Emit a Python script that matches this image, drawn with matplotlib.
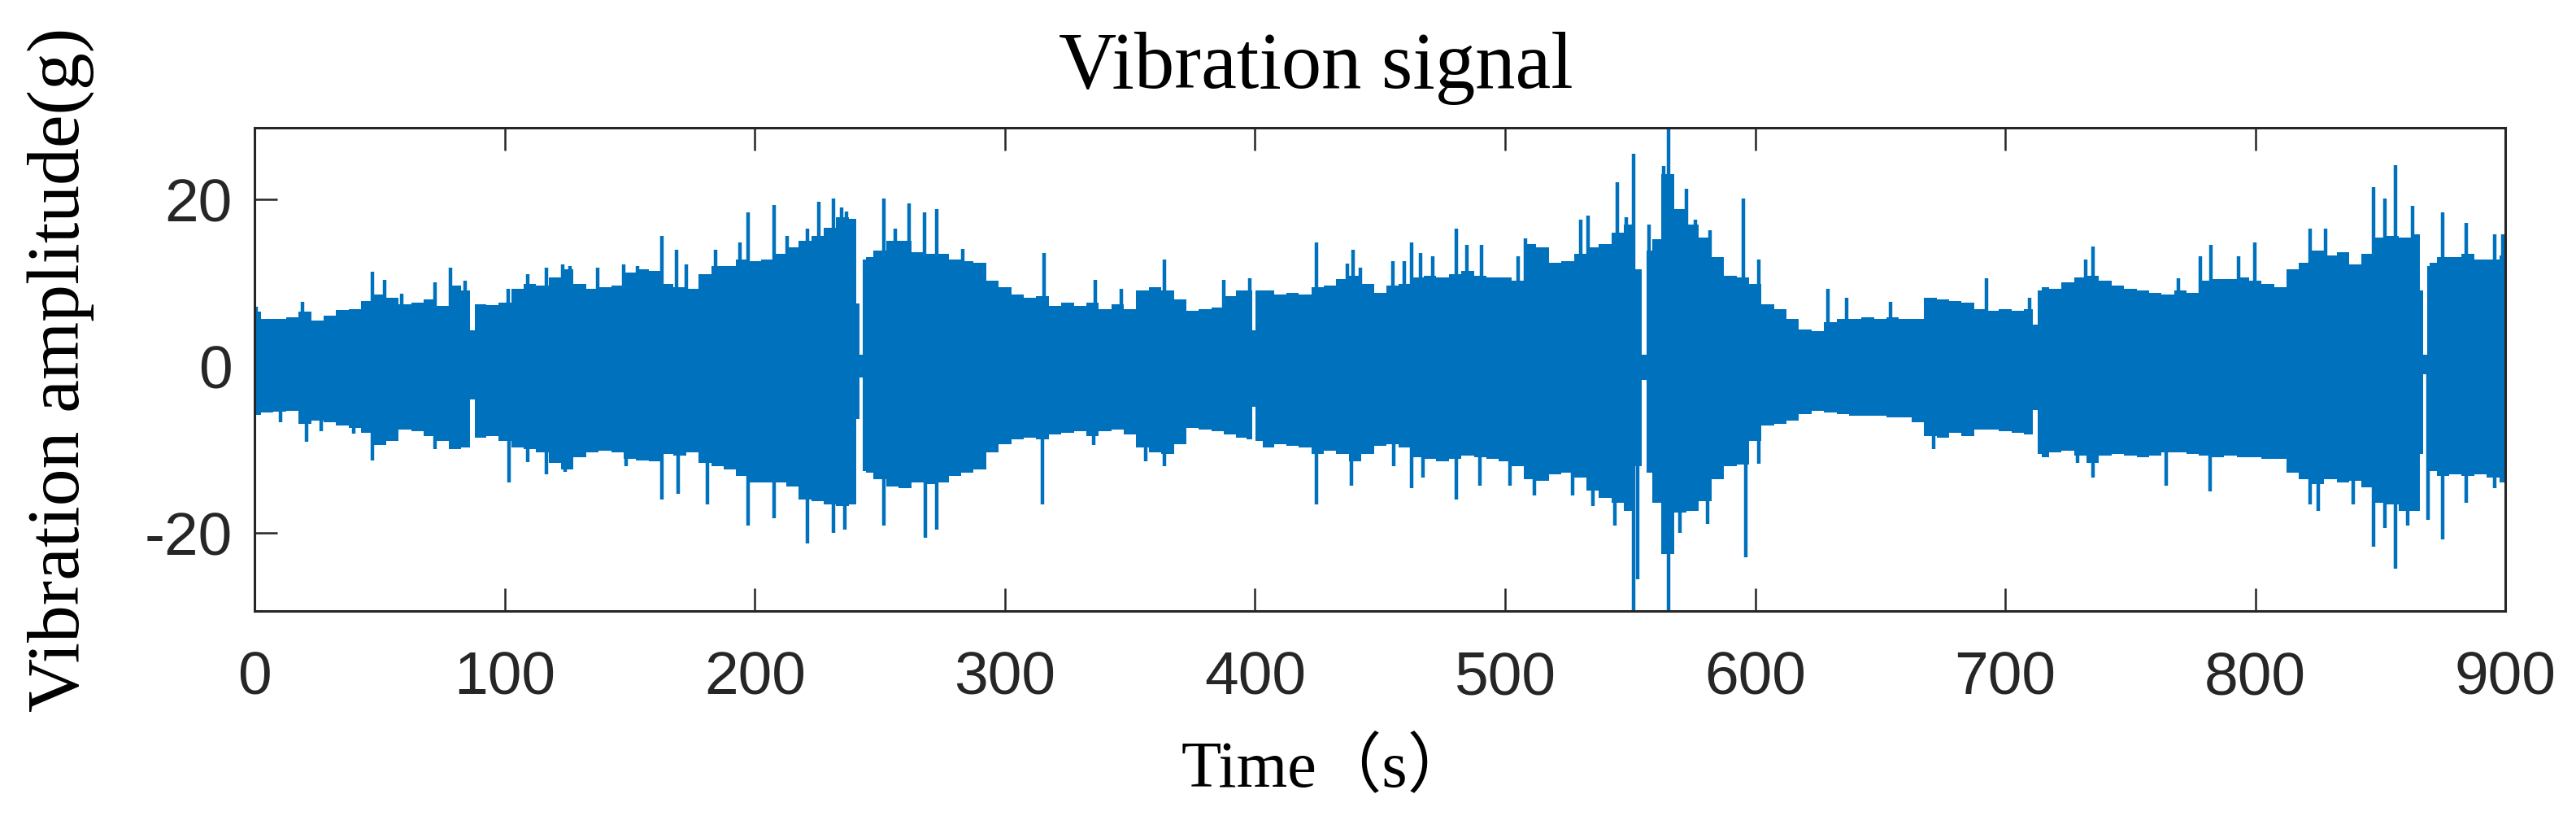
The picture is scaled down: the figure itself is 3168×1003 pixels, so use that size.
import matplotlib
matplotlib.use("Agg")
import matplotlib.pyplot as plt

# body envelope of the vibration signal (time in s, amplitude in g)
env_t = [0, 5, 10, 15, 20, 25, 30, 35, 40, 45, 50, 55, 60, 65, 70, 75, 80, 85, 87, 89,
         90, 95, 100, 105, 110, 115, 120, 125, 130, 135, 140, 145, 150, 155, 160, 165,
         170, 175, 180, 185, 190, 195, 200, 205, 210, 215, 220, 225, 230, 235, 240, 241,
         242.5, 244, 245, 250, 255, 260, 265, 270, 275, 280, 285, 290, 295, 300, 305, 310,
         315, 320, 325, 330, 335, 340, 345, 350, 355, 360, 365, 370, 375, 380, 385, 390,
         395, 398, 399.6, 401, 405, 410, 415, 420, 425, 430, 435, 440, 445, 450, 455, 460,
         465, 470, 475, 480, 485, 490, 495, 500, 505, 510, 515, 520, 525, 530, 535, 540,
         545, 550, 553.5, 555.5, 557.5, 560, 565, 570, 575, 580, 585, 590, 595, 600, 605,
         610, 615, 620, 625, 630, 635, 640, 645, 650, 655, 660, 665, 670, 675, 680, 685,
         690, 695, 700, 705, 710, 712, 714, 715, 720, 725, 730, 735, 740, 745, 750, 755,
         760, 765, 770, 775, 780, 785, 790, 795, 800, 805, 810, 815, 820, 825, 830, 835,
         840, 845, 850, 855, 860, 865, 866.3, 868, 869.5, 870, 875, 880, 885, 890, 895, 900]
env_hi = [6.5, 5.6, 5.6, 5.8, 6.5, 5.4, 6.0, 6.7, 6.8, 7.8, 8.6, 8.2, 7.4, 7.6, 8.0, 7.2,
          9.6, 9.0, 4.3, 7.4, 7.4, 7.3, 7.6, 9.2, 9.8, 9.6, 10.6, 11.6, 9.8, 9.2, 9.4, 9.6,
          11.2, 11.6, 11.4, 9.8, 9.4, 9.2, 11.0, 12.0, 12.0, 12.8, 12.6, 12.8, 13.4, 14.2,
          15.0, 15.6, 16.6, 17.8, 17.6, 7.5, 1.3, 12.8, 13.0, 13.8, 15.0, 15.0, 13.6, 13.4,
          13.4, 12.8, 12.6, 12.4, 10.2, 9.4, 8.6, 8.2, 8.4, 7.2, 7.6, 7.2, 7.6, 6.8, 7.4,
          6.8, 9.0, 9.4, 9.0, 8.0, 6.6, 6.8, 7.0, 8.4, 9.0, 9.0, 4.3, 9.0, 9.0, 8.6, 8.8,
          8.6, 9.4, 9.6, 10.4, 10.8, 9.8, 8.8, 9.6, 9.8, 10.6, 10.8, 10.6, 11.0, 11.4, 10.8,
          10.6, 10.6, 10.2, 14.6, 14.2, 12.4, 12.6, 13.4, 14.2, 14.6, 16.0, 17.0, 11.6, 1.3,
          13.8, 15.2, 23.0, 18.8, 17.0, 15.4, 13.0, 10.8, 10.6, 9.8, 7.4, 6.8, 5.6, 4.4, 4.2,
          5.2, 5.6, 5.6, 5.8, 5.6, 5.8, 5.6, 5.6, 8.2, 8.0, 7.8, 7.6, 6.8, 6.6, 6.8, 6.6,
          6.8, 4.9, 9.0, 9.4, 9.2, 10.0, 10.6, 10.8, 10.2, 9.6, 9.2, 9.0, 8.8, 8.6, 9.0, 8.8,
          10.2, 10.4, 10.4, 10.6, 10.2, 9.8, 9.4, 11.6, 12.4, 13.8, 13.2, 13.6, 12.2, 13.4,
          15.4, 15.6, 15.4, 15.8, 9.0, 1.3, 12.0, 12.4, 13.0, 13.0, 13.4, 12.8, 12.8, 13.2]
env_lo = [-5.9, -5.6, -5.5, -5.4, -7.0, -6.6, -6.8, -7.2, -7.4, -8.0, -9.5, -9.0, -7.6,
          -7.8, -8.4, -9.0, -10.0, -9.8, -4.0, -8.6, -8.6, -8.4, -9.0, -9.8, -10.0, -10.4,
          -11.6, -12.4, -11.0, -10.4, -10.2, -10.4, -11.2, -11.3, -11.4, -10.6, -10.8, -10.4,
          -11.6, -12.0, -12.4, -13.2, -14.0, -14.0, -14.0, -14.5, -16.0, -16.2, -16.6, -16.8,
          -16.6, -6.4, -1.4, -12.6, -12.8, -13.6, -14.5, -14.7, -14.0, -14.2, -14.0, -13.2,
          -12.8, -12.4, -10.4, -9.4, -8.8, -8.6, -8.8, -8.2, -8.0, -7.8, -8.4, -7.8, -7.6,
          -8.2, -9.8, -10.4, -10.6, -9.4, -7.4, -7.6, -7.8, -8.2, -8.6, -8.8, -4.9, -9.0,
          -9.8, -9.4, -9.6, -9.8, -10.6, -10.2, -10.6, -11.4, -10.6, -9.6, -9.4, -9.8, -11.0,
          -11.2, -11.4, -11.2, -10.8, -11.0, -11.2, -11.4, -12.0, -13.6, -13.8, -13.0, -12.8,
          -13.4, -15.0, -15.8, -16.4, -17.4, -12.0, -1.7, -12.8, -16.4, -22.6, -17.6, -17.4,
          -16.2, -13.6, -12.0, -11.8, -9.0, -7.2, -7.0, -6.6, -5.8, -5.4, -5.6, -5.8, -6.0,
          -6.0, -6.0, -6.2, -6.2, -6.8, -8.4, -8.6, -8.0, -8.4, -7.6, -7.6, -7.8, -8.0, -8.2,
          -5.3, -10.6, -11.0, -10.4, -10.2, -10.8, -11.6, -10.8, -10.6, -10.8, -11.0, -10.8,
          -10.4, -10.4, -10.6, -10.8, -11.0, -10.8, -11.0, -11.0, -11.2, -11.2, -12.8, -13.6,
          -14.2, -13.6, -14.0, -13.8, -14.6, -16.4, -16.6, -17.4, -17.4, -10.6, -1.0, -12.2,
          -12.6, -13.2, -13.0, -13.2, -13.0, -13.4, -14.0]

# single peaks standing out of the body
spk_hi_t = [0.6, 19, 47.2, 52, 58.6, 72.2, 78.1, 84, 101.4, 109, 116.6, 123, 126, 137,
            147.5, 153, 162.7, 168.6, 172.4, 184.4, 194, 197.4, 207.7, 213, 221, 225.5,
            231.5, 234.5, 236.5, 239, 251.5, 256, 261.8, 267.8, 272.7, 283, 315.6, 336.2,
            346.5, 363.8, 387.5, 398, 424.5, 437, 439.1, 442, 455, 459.8, 462.5, 466.3,
            471.2, 480.4, 484.7, 490.7, 505.3, 508, 530.2, 533, 544.9, 548.5, 551.4, 557.5,
            563.5, 565.5, 572.5, 576, 582, 595.3, 601.4, 629, 636.6, 654, 692.4, 709.7, 732,
            735.2, 769.3, 778, 782.3, 793.2, 799.7, 822, 828, 847.4, 851.7, 856, 863, 875,
            884.2, 895.6, 899]
spk_hi = [7.1, 7.7, 11.3, 10.3, 8.7, 10.0, 11.8, 10.2, 9.2, 11.0, 11.8, 12.2, 12.0, 11.8,
          12.2, 12.0, 15.6, 13.9, 12.2, 13.9, 14.8, 18.4, 19.3, 15.6, 16.5, 19.7, 20.1, 19.0,
          18.5, 16.0, 20.1, 16.5, 19.5, 18.4, 18.8, 14.0, 13.5, 10.3, 9.2, 12.8, 10.3, 10.5,
          14.8, 12.3, 13.9, 11.8, 12.6, 12.6, 14.8, 13.5, 13.1, 16.5, 14.5, 14.5, 13.1, 15.3,
          17.5, 18.0, 22.0, 17.8, 25.4, 17.0, 24.0, 28.6, 21.2, 17.5, 16.3, 20.1, 12.8, 9.2,
          8.2, 7.7, 10.5, 8.2, 12.8, 14.3, 10.5, 13.1, 14.5, 13.1, 14.8, 16.5, 16.5, 21.4,
          20.1, 24.1, 19.2, 18.4, 17.1, 15.8, 15.8]
spk_lo_t = [10.4, 20.7, 26.7, 39.7, 47.2, 72.2, 101.7, 109, 116.6, 124, 148.6, 162.7,
            169.2, 181, 197.4, 207.7, 221, 231.5, 235.8, 251.5, 268.3, 272.7, 315, 335.6,
            356.2, 363.8, 424.5, 438.6, 455.5, 462.5, 467, 480.4, 490, 502, 511.8, 527, 535,
            543.8, 551.4, 553, 565.5, 570, 581, 596.3, 601.4, 671.3, 729, 735.2, 764.5, 781.8,
            822, 825, 839.2, 847.4, 851.7, 856, 861, 869, 875, 884.2, 895.6]
spk_lo = [-6.8, -9.1, -7.8, -8.1, -11.3, -10.0, -14.0, -11.5, -13.0, -12.7, -12.0, -16.0,
          -15.3, -16.6, -19.2, -18.3, -21.3, -20.0, -19.6, -19.2, -20.6, -19.6, -16.6, -9.5,
          -11.4, -12.0, -16.6, -14.4, -12.0, -14.7, -13.4, -16.0, -14.4, -14.4, -15.5, -15.5,
          -16.8, -19.2, -29.4, -25.6, -29.4, -20.0, -19.0, -23.0, -11.7, -10.0, -11.6, -13.4,
          -14.4, -15.1, -16.6, -17.4, -16.6, -21.7, -19.4, -24.3, -19.2, -18.5, -20.8, -16.4,
          -14.7]

blue = "#0072BD"
grey = "#262626"

fig = plt.figure(figsize=(15.84, 5.02), dpi=200)
ax = fig.add_axes([0.0989, 0.251, 0.8737, 0.592])

ax.fill_between(env_t, env_lo, env_hi, step="mid", color=blue, lw=0, zorder=2)
ax.vlines(spk_hi_t, 0, spk_hi, color=blue, lw=1.6, zorder=2)
ax.vlines(spk_lo_t, spk_lo, 0, color=blue, lw=1.6, zorder=2)

ax.set_xlim(0, 900)
ax.set_ylim(min(spk_lo), max(spk_hi))
ax.set_xticks(range(0, 901, 100))
ax.set_yticks([-20, 0, 20])
ax.set_yticklabels(["-20", "0", "20"])

for sp in ax.spines.values():
    sp.set_color(grey)
    sp.set_linewidth(1.1)
ax.tick_params(axis="x", direction="in", top=True, length=10, width=0.9,
               color=grey, labelcolor=grey, labelsize=27, pad=17)
ax.tick_params(axis="y", direction="in", right=False, length=10, width=0.9,
               color=grey, labelcolor=grey, labelsize=27, pad=10)
for lab in ax.get_xticklabels() + ax.get_yticklabels():
    lab.set_family("Liberation Sans")

# title and x label sit a little left of the axes centre in the original
ax.set_title("Vibration signal", family="Liberation Serif", fontsize=35.5, pad=18,
             color="black", x=0.4715)
ax.set_xlabel("Time（s）", family=["Liberation Serif", "Noto Sans CJK SC"],
              fontsize=29, labelpad=14)
ax.xaxis.label.set_x(0.4766)
ax.set_ylabel("Vibration amplitude(g)", family="Liberation Serif", fontsize=33,
              labelpad=22)

fig.savefig("out.png", dpi=200)
